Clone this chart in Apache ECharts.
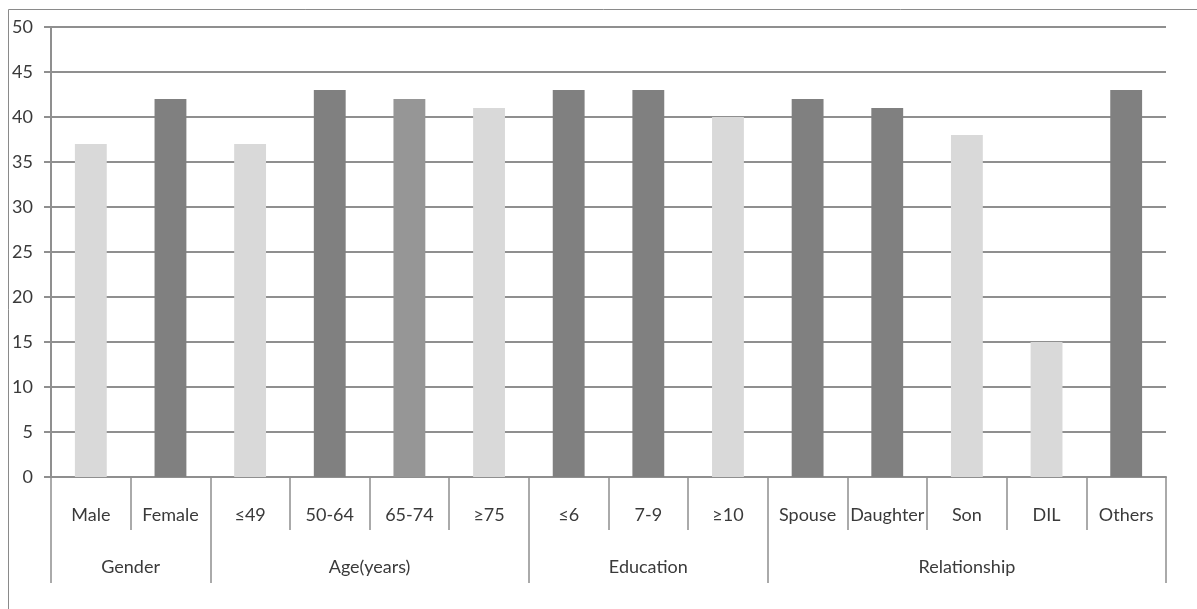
<!DOCTYPE html>
<html>
<head>
<meta charset="utf-8">
<script src="https://cdn.jsdelivr.net/npm/echarts@6/dist/echarts.min.js"></script>
<style>
  html, body { margin: 0; padding: 0; background: #fff; }
  #chart { width: 1197px; height: 609px; }
</style>
</head>
<body>
<div id="chart"></div>
<script>
// Sub-categories along the x axis
const categories = ['Male', 'Female', '≤49', '50-64', '65-74', '≥75', '≤6', '7-9', '≥10',
                    'Spouse', 'Daughter', 'Son', 'DIL', 'Others'];
// Bar values
const values = [37, 42, 37, 43, 42, 41, 43, 43, 40, 42, 41, 38, 15, 43];
// Group names and how many sub-categories each spans
const groups = ['Gender', 'Age(years)', 'Education', 'Relationship'];
const groupSizes = [2, 4, 3, 5];
// Y axis ticks
const yTicks = [0, 5, 10, 15, 20, 25, 30, 35, 40, 45, 50];

// Shade of each bar
const LIGHT = '#d9d9d9', DARK = '#808080', MID = '#969696';
const barShades = [LIGHT, DARK, LIGHT, DARK, MID, LIGHT, DARK, DARK, LIGHT, DARK, DARK, LIGHT, LIGHT, DARK];

// Group boundaries and centres on a 0..N scale
const boundaries = [0];
const centers = [];
groupSizes.forEach(n => {
  const start = boundaries[boundaries.length - 1];
  centers.push(start + n / 2);
  boundaries.push(start + n);
});

const FONT = 'Lato';
const TEXT = '#3a3a3a';
const LINE = '#8f8f8f';

const chart = echarts.init(document.getElementById('chart'), null, { renderer: 'canvas' });
chart.setOption({
  animation: false,
  backgroundColor: '#fff',
  graphic: [{
    type: 'rect',
    shape: { x: 8.5, y: 9.5, width: 1400, height: 800 },
    style: { fill: 'none', stroke: '#8a8a8a', lineWidth: 1 },
    silent: true
  }],
  grid: { left: 51, right: 31, top: 27, bottom: 132, containLabel: false },
  xAxis: [{
    type: 'category',
    data: categories,
    position: 'bottom',
    axisLine: { show: true, lineStyle: { color: LINE, width: 2 } },
    axisTick: { show: true, length: 53, interval: 0, lineStyle: { color: LINE, width: 1.5 } },
    axisLabel: { interval: 0, margin: 29, fontFamily: FONT, fontSize: 18, color: TEXT },
    splitLine: { show: false }
  }, {
    type: 'value',
    min: 0,
    max: boundaries[boundaries.length - 1],
    position: 'bottom',
    axisLine: { show: false },
    axisTick: { show: true, length: 106, customValues: boundaries, lineStyle: { color: LINE, width: 1.5 } },
    axisLabel: {
      show: true,
      margin: 81,
      customValues: centers,
      fontFamily: FONT, fontSize: 18, color: TEXT,
      formatter: v => {
        const i = centers.indexOf(v);
        return i >= 0 ? groups[i] : '';
      }
    },
    splitLine: { show: false }
  }],
  yAxis: {
    type: 'value',
    min: yTicks[0],
    max: yTicks[yTicks.length - 1],
    interval: yTicks[1] - yTicks[0],
    axisLine: { show: true, lineStyle: { color: LINE, width: 2 } },
    axisTick: { show: true, length: 7, lineStyle: { color: LINE, width: 2 } },
    axisLabel: { margin: 18, fontFamily: FONT, fontSize: 18, color: TEXT },
    splitLine: { show: true, lineStyle: { color: LINE, width: 2 } }
  },
  series: [{
    type: 'bar',
    xAxisIndex: 0,
    barWidth: '40%',
    data: values.map((v, i) => ({ value: v, itemStyle: { color: barShades[i] } }))
  }]
});
</script>
</body>
</html>
